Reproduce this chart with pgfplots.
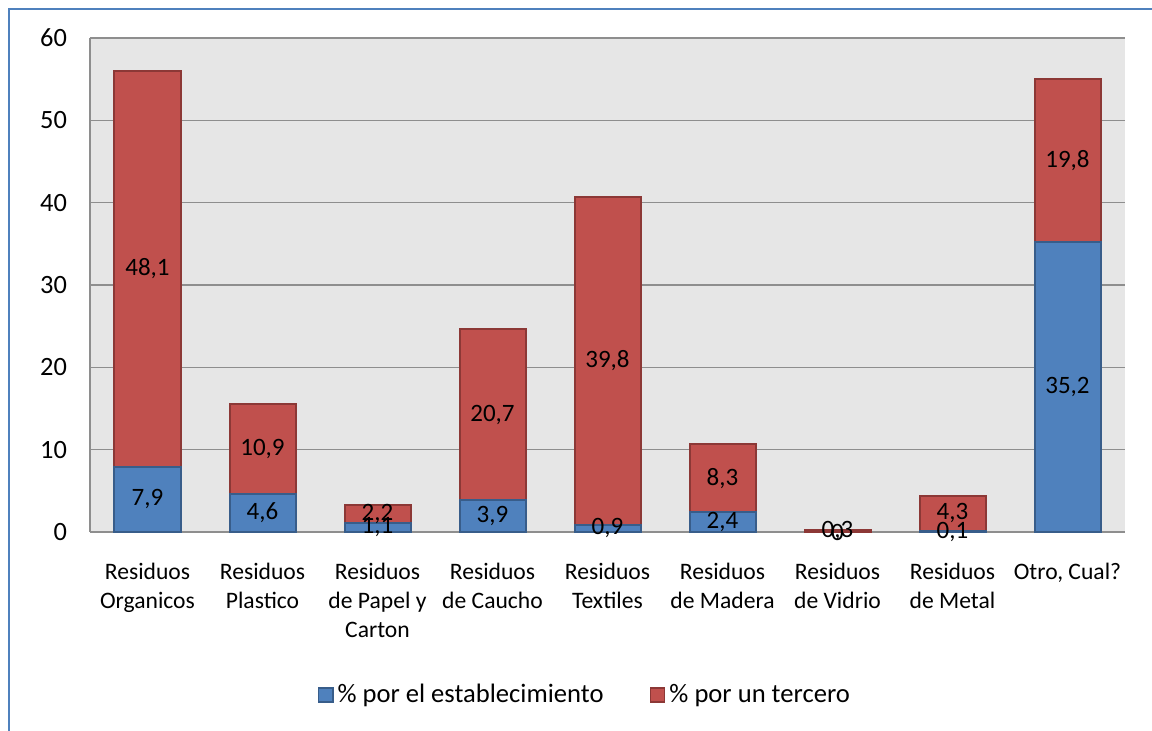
\documentclass[border=0pt]{standalone}
\usepackage{pgfplots}
\pgfplotsset{compat=1.18}
\usepackage{pgfplotstable}
\usepackage{fontspec}
\setmainfont{Carlito}

\definecolor{estab}{HTML}{4F81BD}
\definecolor{estabEdge}{HTML}{385D8A}
\definecolor{tercero}{HTML}{C0504D}
\definecolor{terceroEdge}{HTML}{8C3836}
\definecolor{plotbg}{HTML}{E6E6E6}
\definecolor{gridgray}{HTML}{8E8E8E}
\definecolor{frameblue}{HTML}{4F81BD}

% share of each waste type: handled by the establishment / by a third party
\pgfplotstableread{
x estab tercero
0 7.9  48.1
1 4.6  10.9
2 1.1  2.2
3 3.9  20.7
4 0.9  39.8
5 2.4  8.3
6 0    0.3
7 0.1  4.3
8 35.2 19.8
}\residuos

% value labels, set at the middle of each stacked segment
\pgfplotstableread{
x mid val
0 3.95  7.9
0 31.95 48.1
1 2.3   4.6
1 10.05 10.9
2 0.55  1.1
2 2.2   2.2
3 1.95  3.9
3 14.25 20.7
4 0.45  0.9
4 20.8  39.8
5 1.2   2.4
5 6.55  8.3
6 0     0
6 0.15  0.3
7 0.05  0.1
7 2.25  4.3
8 17.6  35.2
8 45.1  19.8
}\etiquetas

\pgfplotsset{
  marco/.style={
    at={(45pt,-266pt)}, anchor=south west,
    scale only axis, width=517.5pt, height=247pt,
    xmin=-0.5, xmax=8.5, ymin=0, ymax=60, clip=false,
  },
}

\begin{document}
\begin{tikzpicture}
\path[use as bounding box] (0pt,0pt) rectangle (576pt,-365.5pt);
% chart frame
\draw[frameblue, line width=1.2pt] (4.6pt,-372pt) -- (4.6pt,-4.5pt) -- (585pt,-4.5pt);

\begin{axis}[
  marco,
  ybar stacked, bar width=33pt,
  axis background/.style={fill=plotbg},
  axis x line*=bottom, axis y line*=left,
  axis line style={-, draw=gridgray, line width=0.75pt},
  ymajorgrids, grid style={draw=gridgray, line width=0.75pt},
  ytick={0,10,...,60},
  xtick={0,...,8},
  xticklabels={{Residuos\\Organicos},{Residuos\\Plastico},{Residuos\\de Papel y\\Carton},{Residuos\\de Caucho},{Residuos\\Textiles},{Residuos\\de Madera},{Residuos\\de Vidrio},{Residuos\\de Metal},{Otro, Cual?}},
  major tick length=0pt,
  xticklabel style={font=\fontsize{11.8}{14.5}\selectfont, align=center, anchor=north, yshift=-12pt},
  yticklabel style={font=\fontsize{13.2}{15}\selectfont, /pgf/number format/assume math mode=true, xshift=-8pt},
  legend style={at={(0.479,-0.33)}, anchor=center, draw=none, fill=none,
    legend columns=2, font=\fontsize{13.3}{15}\selectfont,
    /tikz/every even column/.append style={column sep=21pt},
    cells={anchor=west}},
  legend image code/.code={\draw[#1, line width=0.75pt] (0pt,-3.6pt) rectangle (7.2pt,3.6pt);},
]
\addplot[fill=estab, draw=estabEdge, line width=1pt] table[x=x, y=estab]{\residuos};
\addlegendentry{\% por el establecimiento}
\addplot[fill=tercero, draw=terceroEdge, line width=1pt] table[x=x, y=tercero]{\residuos};
\addlegendentry{\% por un tercero}
\end{axis}

\begin{axis}[
  marco, hide axis,
  nodes near coords={\pgfmathprintnumber[use comma, fixed, precision=1, assume math mode=true]{\pgfplotspointmeta}},
  every node near coord/.append style={anchor=center, text=black, font=\fontsize{12.5}{14}\selectfont},
]
\addplot[draw=none, mark=none, point meta=explicit] table[x=x, y=mid, meta=val]{\etiquetas};
\end{axis}
\end{tikzpicture}
\end{document}
